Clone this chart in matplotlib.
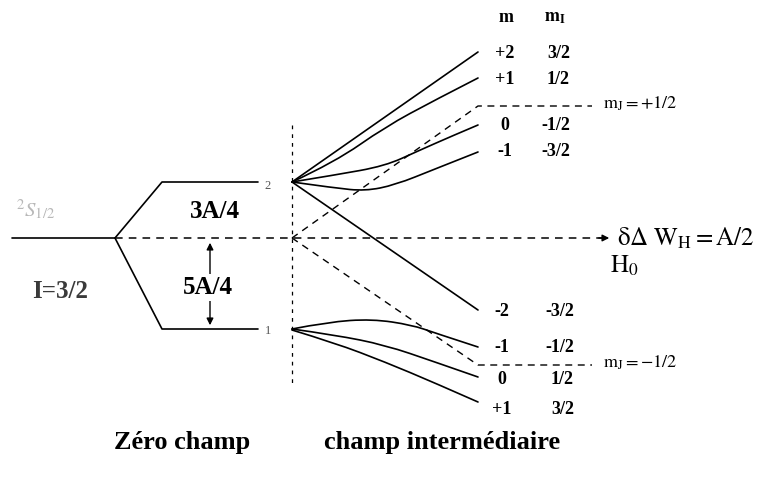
import matplotlib
matplotlib.use("Agg")
import matplotlib.pyplot as plt
from matplotlib.patches import FancyArrowPatch, PathPatch
from matplotlib.path import Path

plt.rcParams['font.family'] = ['Liberation Serif', 'DejaVu Serif']
plt.rcParams['mathtext.fontset'] = 'stix'

# ---- data (diagram coordinates: x = field axis, y = energy axis, in picture units) ----
zero_x = [12, 115, 162, 258]
level_center = 238
level_F2 = 182
level_F1 = 329
field_origin_x = 292
field_end_x = 478
asym_end_x = 592

# F=2 branches (x, y)
up_x_p2 = [292, 478]
up_y_p2 = [182, 52]
up_x_p1 = [292, 335, 385, 435, 478]
up_y_p1 = [182, 162, 127, 100, 78]
up_x_0 = [292, 335, 385, 418, 452, 478]
up_y_0 = [182, 175, 166, 151, 136, 125]
up_x_m1 = [292, 335, 365, 395, 435, 478]
up_y_m1 = [182, 188, 191, 185, 169, 152]
up_x_m2 = [292, 478]
up_y_m2 = [182, 310]

# F=1 branches
lo_x_m1 = [292, 328, 372, 412, 435, 478]
lo_y_m1 = [329, 322, 319, 325, 333, 347]
lo_x_0 = [292, 335, 385, 435, 478]
lo_y_0 = [329, 335, 345, 362, 377]
lo_x_p1 = [292, 335, 385, 435, 478]
lo_y_p1 = [330, 343, 362, 383, 402]

# m_J asymptotes
mj_plus_y = 106
mj_minus_y = 365

# right-hand labels
m_labels_up = ['+2', '+1', '0', '-1']
mI_labels_up = ['3/2', '1/2', '-1/2', '-3/2']
row_y_up = [53, 80, 125, 152]
m_labels_lo = ['-2', '-1', '0', '+1']
mI_labels_lo = ['-3/2', '-1/2', '1/2', '3/2']
row_y_lo = [312, 347, 380, 409]

fig = plt.figure(figsize=(7.57, 4.84), dpi=100)
ax = fig.add_axes([0, 0, 1, 1])
ax.set_xlim(0, 757)
ax.set_ylim(484, 0)
ax.axis('off')

lw = 1.2
k = dict(color='black', lw=lw, solid_joinstyle='round', solid_capstyle='round')


def smooth_branch(xs, ys):
    """Quadratic B-spline path using the read points as control points."""
    pts = list(zip(xs, ys))
    if len(pts) == 2:
        verts, codes = pts, [Path.MOVETO, Path.LINETO]
    else:
        verts = [pts[0]]
        codes = [Path.MOVETO]
        # first segment straight to midpoint of p0-p1
        for i in range(1, len(pts) - 1):
            mid = ((pts[i][0] + pts[i + 1][0]) / 2, (pts[i][1] + pts[i + 1][1]) / 2)
            if i == len(pts) - 2:
                mid = pts[-1]
            verts += [pts[i], mid]
            codes += [Path.CURVE3, Path.CURVE3]
    ax.add_patch(PathPatch(Path(verts, codes), facecolor='none', edgecolor='black',
                           lw=lw, joinstyle='round', capstyle='round'))


# zero field splitting
ax.plot(zero_x[:2], [level_center, level_center], **k)
ax.plot([zero_x[1], zero_x[2], zero_x[3]], [level_center, level_F2, level_F2], **k)
ax.plot([zero_x[1], zero_x[2], zero_x[3]], [level_center, level_F1, level_F1], **k)

# central dashed axis with arrow
ax.plot([zero_x[1], 603], [level_center, level_center], color='black', lw=1.1, ls=(0, (5, 4)))
ax.add_patch(FancyArrowPatch((596, level_center), (612, level_center), arrowstyle='-|>',
                             mutation_scale=10, color='black', lw=1.0))

# vertical dotted line
ax.plot([field_origin_x, field_origin_x], [125, 385], color='black', lw=0.9, ls=(0, (3, 4)))

# double arrow 5A/4
ax.add_patch(FancyArrowPatch((210, 328), (210, 240), arrowstyle='<|-|>',
                             mutation_scale=10, color='black', lw=1.0))

# branches
for xs, ys in [(up_x_p2, up_y_p2), (up_x_p1, up_y_p1), (up_x_0, up_y_0), (up_x_m1, up_y_m1),
               (up_x_m2, up_y_m2), (lo_x_m1, lo_y_m1), (lo_x_0, lo_y_0), (lo_x_p1, lo_y_p1)]:
    smooth_branch(xs, ys)

# m_J dashed asymptotes
ax.plot([field_origin_x, field_end_x, asym_end_x], [level_center, mj_plus_y, mj_plus_y],
        color='black', lw=1.0, ls=(0, (5, 4)))
ax.plot([field_origin_x, field_end_x, asym_end_x], [level_center, mj_minus_y, mj_minus_y],
        color='black', lw=1.0, ls=(0, (5, 4)))

# texts
bold = dict(fontweight='bold', color='black')
ax.text(36, 210, r'$^2S_{1/2}$', fontsize=15, color='#b8b8b8', ha='center', va='center')
ax.text(60, 292, 'I=3/2', fontsize=18, ha='center', va='center', color='#3a3a3a', fontweight='bold')
ax.text(215, 211, '3A/4', fontsize=18, ha='center', va='center', **bold)
ax.text(208, 287, '5A/4', fontsize=18, ha='center', va='center',
        bbox=dict(facecolor='white', edgecolor='none', pad=1.5), **bold)
ax.text(268, 186, '2', fontsize=9, ha='center', va='center', color='#555555')
ax.text(268, 331, '1', fontsize=9, ha='center', va='center', color='#555555')

ax.text(506, 17, 'm', fontsize=13, ha='center', va='center', **bold)
ax.text(555, 17, r'$\mathbf{m}_{\mathbf{I}}$', fontsize=13, ha='center', va='center')
for lab, y in zip(m_labels_up, row_y_up):
    ax.text(505, y, lab, fontsize=13, ha='center', va='center', **bold)
for lab, y in zip(mI_labels_up, row_y_up):
    ax.text(570, y, lab, fontsize=13, ha='right', va='center', **bold)
for lab, y in zip(m_labels_lo, row_y_lo):
    ax.text(502, y, lab, fontsize=13, ha='center', va='center', **bold)
for lab, y in zip(mI_labels_lo, row_y_lo):
    ax.text(574, y, lab, fontsize=13, ha='right', va='center', **bold)

ax.text(603, 104, r'$\mathrm{m_J = +1/2}$', fontsize=13, ha='left', va='center')
ax.text(603, 363, r'$\mathrm{m_J = -1/2}$', fontsize=13, ha='left', va='center')
ax.text(617, 238, r'$\mathrm{\delta\Delta\ W_H = A/2}$', fontsize=18, ha='left', va='center')
ax.text(610, 266, r'$\mathrm{H_0}$', fontsize=18, ha='left', va='center')

ax.text(182, 442, 'Zéro champ', fontsize=19, ha='center', va='center', **bold)
ax.text(442, 442, 'champ intermédiaire', fontsize=19, ha='center', va='center', **bold)

fig.savefig('out.png', dpi=100, facecolor='white')
